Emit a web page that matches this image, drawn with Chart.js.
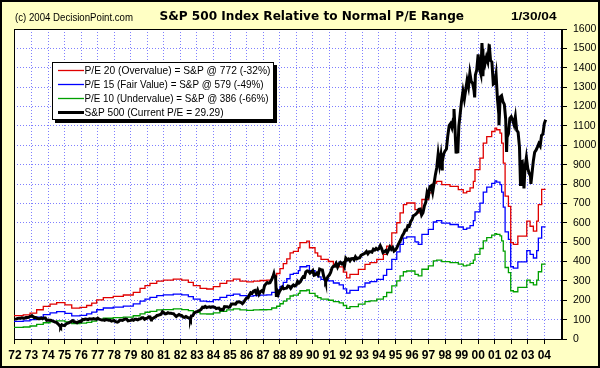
<!DOCTYPE html>
<html><head><meta charset="utf-8">
<script src="https://cdn.jsdelivr.net/npm/chart.js@4.4.1/dist/chart.umd.min.js"></script>
<style>html,body{margin:0;padding:0;background:#FFFFC4;} canvas{display:block;}</style>
</head><body>
<canvas id="c" width="600" height="368"></canvas>
<script>
// ---------- texts ----------
const titleText = "S&P 500 Index Relative to Normal P/E Range";
const copyrightText = "(c) 2004 DecisionPoint.com";
const dateText = "1/30/04";
const seriesLabels = [
  "P/E 20 (Overvalue) = S&P @ 772 (-32%)",
  "P/E 15 (Fair Value) = S&P @ 579 (-49%)",
  "P/E 10 (Undervalue) = S&P @ 386 (-66%)",
  "S&P 500 (Current P/E = 29.29)"
];
const yearLabels = ["72","73","74","75","76","77","78","79","80","81","82","83","84","85","86","87","88","89","90","91","92","93","94","95","96","97","98","99","00","01","02","03","04"];
const firstYear = 1972;
const yTickValues = [0,100,200,300,400,500,600,700,800,900,1000,1100,1200,1300,1400,1500,1600];

// ---------- S&P 500 month-end closes, starting Dec 1971 ----------
const spxMonthly = [
102.09,
103.94,106.57,107.20,107.67,109.53,107.14,107.39,111.09,110.55,111.58,116.67,118.05,
116.03,111.68,111.52,106.97,104.95,104.26,108.22,104.25,108.43,108.29,95.96,97.55,
96.57,96.22,93.98,90.31,87.28,86.00,79.31,72.15,63.54,73.90,69.97,68.56,
76.98,81.59,83.36,87.30,91.15,95.19,88.75,86.88,83.87,89.04,91.24,90.19,
100.86,99.71,102.77,101.64,100.18,104.28,103.44,102.91,105.24,102.90,102.10,107.46,
102.03,99.82,98.42,98.44,96.12,100.48,98.85,96.77,96.53,92.34,94.83,95.10,
89.25,87.04,89.21,96.83,97.24,95.53,100.68,103.29,102.54,93.15,94.70,96.11,
99.93,96.28,101.59,101.76,99.08,102.91,103.81,109.32,109.32,101.82,106.16,107.94,
114.16,113.66,102.09,106.29,111.24,114.24,121.67,122.38,125.46,127.47,140.52,135.76,
129.55,131.27,136.00,132.81,132.59,131.21,130.92,122.79,116.18,121.89,126.35,122.55,
120.40,113.11,111.96,116.44,111.88,109.61,107.09,119.51,120.42,133.71,138.54,140.64,
145.30,148.06,152.96,164.42,162.39,168.11,162.56,164.40,166.07,163.55,166.40,164.93,
163.41,157.06,159.18,160.05,150.55,153.18,150.66,166.68,166.10,166.09,163.58,167.24,
179.63,181.18,180.66,179.83,189.55,191.85,190.92,188.63,182.08,189.82,202.17,211.28,
211.78,226.92,238.90,235.52,247.35,250.84,236.12,252.93,231.32,243.98,249.22,242.17,
274.08,284.20,291.70,288.36,290.10,304.00,318.66,329.80,321.83,251.79,230.30,247.08,
257.07,267.82,258.89,261.33,262.16,273.50,272.02,261.52,271.91,278.97,273.70,277.72,
297.47,288.86,294.87,309.64,320.52,317.98,346.08,351.45,349.15,340.36,345.99,353.40,
329.08,331.89,339.94,330.80,361.23,358.02,356.15,322.56,306.05,304.00,322.22,330.22,
343.93,367.07,375.22,375.35,389.83,371.16,387.81,395.43,387.86,392.46,375.22,417.09,
408.79,412.70,403.69,414.95,415.35,408.14,424.21,414.03,417.80,418.68,431.35,435.71,
438.78,443.38,451.67,440.19,450.19,450.53,448.13,463.56,458.93,467.83,461.79,466.45,
481.61,467.14,445.77,450.91,456.50,444.27,458.26,475.49,462.69,472.35,453.69,459.27,
470.42,487.39,500.71,514.71,533.40,544.75,562.06,561.88,584.41,581.50,605.37,615.93,
636.02,640.43,645.50,654.17,669.12,670.63,639.95,651.99,687.31,705.27,757.02,740.74,
786.16,790.82,757.12,801.34,848.28,885.14,954.29,899.47,947.28,914.62,955.40,970.43,
980.28,1049.34,1101.75,1111.75,1090.82,1133.84,1120.67,957.28,1017.01,1098.67,1163.63,1229.23,
1279.64,1238.33,1286.37,1335.18,1301.84,1372.71,1328.72,1320.41,1282.71,1362.93,1388.91,1469.25,
1394.46,1366.42,1498.58,1452.43,1420.60,1454.60,1430.83,1517.68,1436.51,1429.40,1314.95,1320.28,
1366.01,1239.94,1160.33,1249.46,1255.82,1224.42,1211.23,1133.58,1040.94,1059.78,1139.45,1148.08,
1130.20,1106.73,1147.39,1076.92,1067.14,989.82,911.62,916.07,815.28,885.76,936.31,879.82,
855.70,841.15,848.18,916.92,963.59,974.50,990.31,1008.01,995.97,1050.71,1058.20,1111.92,
1131.13
];
// intra-month extremes
const spxExtremeDates  = [1973.03,1974.76,1978.18,1980.24,1982.61,1987.65,1987.80,1990.78,1997.82,1998.54,1998.77,1999.79,2000.23,2000.29,2000.67,2001.26,2001.72,2002.56,2002.77,2003.19];
const spxExtremeValues = [120.2, 62.3, 86.9, 98.2, 102.4, 336.8, 224.8, 295.5, 877, 1187, 959, 1247, 1527, 1356, 1521, 1103, 966, 798, 777, 801];

// ---------- P/E bands (step lines) ----------
const peDates = [1971.94,1972.50,1972.91,1973.31,1973.71,1974.12,1974.52,1975.02,1975.43,1975.93,1976.33,1976.64,1976.94,1977.34,1977.94,1978.55,1979.15,1979.56,1979.86,1980.16,1980.57,1980.97,1981.57,1982.08,1982.48,1982.78,1983.19,1983.59,1983.99,1984.39,1984.80,1985.20,1985.60,1986.01,1986.41,1986.81,1987.22,1987.52,1987.82,1988.02,1988.22,1988.43,1988.63,1988.83,1989.13,
1989.23,1989.64,1989.80,1990.14,1990.30,1990.50,1990.94,1991.25,1991.60,1991.85,1992.05,1992.25,1992.76,1993.16,1993.46,1993.87,1994.27,1994.47,1994.78,1995.08,1995.28,1995.48,1995.68,1996.18,1996.38,1996.60,1996.99,1997.29,1997.49,1997.80,1998.30,1998.80,1999.10,1999.31,1999.51,1999.71,1999.81,2000.11,2000.31,2000.52,2000.82,2001.02,2001.12,2001.32,2001.42,2001.52,2001.63,2001.83,2001.97,2002.13,2002.40,2002.94,2003.14,2003.34,2003.54,2003.64,2003.84,2003.98,2004.08];
const pe20 = [117,121,125,134,151,168,180,188,176,159,163,173,185,202,214,220,227,241,261,275,287,299,304,309,304,292,275,261,258,270,287,300,309,299,295,299,302,304,321,338,363,389,414,445,452,
471,497,505,471,445,428,411,400,385,372,345,316,334,359,385,394,411,437,479,548,600,651,694,702,668,651,720,754,805,814,797,788,771,754,762,780,814,874,934,1011,1045,1071,1088,1080,1063,1011,908,737,685,497,488,531,608,582,557,608,694,772,772];
const pe15 = [88,91,94,100,113,126,135,141,132,119,122,130,139,151,160,165,170,181,196,206,215,224,228,232,228,219,206,196,193,203,215,225,232,224,221,224,226,228,241,253,272,292,311,334,339,
353,373,379,353,334,321,308,300,289,279,259,237,251,269,289,296,308,328,359,411,450,488,521,527,501,488,540,566,604,611,598,591,578,566,572,585,611,656,701,758,784,803,816,810,797,758,681,553,514,373,366,398,456,437,418,456,521,579,579];
const pe10 = [59,60,62,67,75,84,90,94,88,80,82,86,92,101,107,110,113,120,130,138,143,150,152,155,152,146,138,130,129,135,143,150,155,150,148,150,151,152,160,169,182,195,207,222,226,
236,249,253,236,222,214,206,200,193,186,173,158,167,180,193,197,206,219,240,274,300,326,347,351,334,326,360,377,403,407,399,394,386,377,381,390,407,437,467,506,523,536,544,540,532,506,454,369,343,249,244,266,304,291,279,304,347,386,386];

// ---------- build point lists ----------
const spxPoints = spxMonthly.map((v,i)=>({x: firstYear + i/12, y: v}))
  .concat(spxExtremeDates.map((d,i)=>({x: d, y: spxExtremeValues[i]})))
  .sort((a,b)=>a.x-b.x);
const bandPoints = arr => peDates.map((d,i)=>({x: d, y: arr[i]}));

const BG = '#FFFFC4';
const GRID = '#7f7fff';

function drawFitted(ctx, text, x, y, font, width) {
  ctx.save();
  ctx.font = font; ctx.fillStyle = '#000'; ctx.textBaseline = 'middle'; ctx.textAlign = 'left';
  const w = ctx.measureText(text).width;
  const sx = width ? width / w : 1;
  ctx.translate(x, y); ctx.scale(sx, 1); ctx.fillText(text, 0, 0);
  ctx.restore();
}

const legendTextWidths = [186, 179, 184, 139];

const decorPlugin = {
  id: 'decor',
  beforeDraw(chart) {
    const {ctx, chartArea: a} = chart;
    ctx.save();
    ctx.fillStyle = BG; ctx.fillRect(0, 0, chart.width, chart.height);
    ctx.fillStyle = '#fff'; ctx.fillRect(a.left, a.top, a.right - a.left, a.bottom - a.top);
    ctx.restore();
  },
  beforeDatasetsDraw(chart) {
    const {ctx, chartArea: a} = chart;
    ctx.save();
    ctx.strokeStyle = '#000'; ctx.lineWidth = 1;
    ctx.strokeRect(a.left + 0.5, a.top + 0.5, a.right - a.left - 1, a.bottom - a.top);
    ctx.restore();
  },
  afterDraw(chart) {
    const ctx = chart.ctx;
    ctx.save();
    ctx.strokeStyle = '#000'; ctx.lineWidth = 2;
    ctx.strokeRect(1, 1, chart.width - 2, chart.height - 2);
    ctx.restore();
    drawFitted(ctx, copyrightText, 15, 17.5, '11px "Liberation Sans"', 118);
    drawFitted(ctx, titleText, 159.5, 16.5, 'bold 12px "DejaVu Sans"', 304.5);
    drawFitted(ctx, dateText, 511, 17, 'bold 11px "Liberation Sans"', 45.5);
    // legend box
    const bx = 52, by = 62, bw = 222, bh = 58;
    ctx.save();
    ctx.fillStyle = '#000'; ctx.fillRect(bx + 3, by + 3, bw, bh);
    ctx.fillStyle = '#fff'; ctx.fillRect(bx, by, bw, bh);
    ctx.strokeStyle = '#000'; ctx.lineWidth = 1; ctx.strokeRect(bx + 0.5, by + 0.5, bw - 1, bh - 1);
    ctx.restore();
    const order = [1, 2, 3, 0];
    const rowsY = [70.5, 84.5, 98.5, 112.5];
    order.forEach((di, r) => {
      const ds = chart.data.datasets[di];
      ctx.save();
      ctx.strokeStyle = ds.borderColor; ctx.lineWidth = di === 0 ? 3 : 1.3;
      ctx.beginPath(); ctx.moveTo(58, rowsY[r]); ctx.lineTo(84, rowsY[r]); ctx.stroke();
      ctx.restore();
      drawFitted(ctx, ds.label, 84.5, rowsY[r] + 0.5, '11px "Liberation Sans"', legendTextWidths[r]);
    });
  }
};

const gridCommon = {
  color: GRID, lineWidth: 1, drawTicks: true, tickLength: 5,
  tickColor: '#000', tickBorderDash: [], tickWidth: 1
};

new Chart(document.getElementById('c').getContext('2d'), {
  type: 'line',
  data: {
    datasets: [
      {label: seriesLabels[3], data: spxPoints, borderColor: '#000000', borderWidth: 3, pointRadius: 0, tension: 0, order: 0},
      {label: seriesLabels[0], data: bandPoints(pe20), borderColor: '#e00000', borderWidth: 1.3, pointRadius: 0, stepped: 'after', order: 1},
      {label: seriesLabels[1], data: bandPoints(pe15), borderColor: '#0000ff', borderWidth: 1.3, pointRadius: 0, stepped: 'after', order: 2},
      {label: seriesLabels[2], data: bandPoints(pe10), borderColor: '#00a000', borderWidth: 1.3, pointRadius: 0, stepped: 'after', order: 3}
    ]
  },
  options: {
    responsive: false, animation: false, devicePixelRatio: 1,
    layout: {padding: {left: 14, top: 29, right: 0, bottom: 0}},
    plugins: {legend: {display: false}, title: {display: false}, tooltip: {enabled: false}},
    scales: {
      x: {
        type: 'linear', min: 1971.94, max: 2005.07,
        afterBuildTicks: s => { s.ticks = yearLabels.map((_, i) => ({value: firstYear + i})); },
        ticks: {autoSkip: false, maxRotation: 0, minRotation: 0, padding: 4, color: '#000',
                font: {family: 'Liberation Sans', size: 12, weight: 'bold'},
                callback: (v, i) => yearLabels[i]},
        grid: gridCommon,
        border: {display: true, color: '#000', width: 1, dash: [1, 2]},
        afterFit: s => { s.height = 29; }
      },
      y: {
        position: 'right', min: 0, max: 1600,
        afterBuildTicks: s => { s.ticks = yTickValues.map(v => ({value: v})); },
        ticks: {autoSkip: false, padding: 6, color: '#000', font: {family: 'Liberation Sans', size: 10.5},
                callback: (v, i) => String(yTickValues[i])},
        grid: gridCommon,
        border: {display: true, color: '#000', width: 1, dash: [1, 2]},
        afterFit: s => { s.width = 38; }
      }
    }
  },
  plugins: [decorPlugin]
});
</script>
</body></html>
